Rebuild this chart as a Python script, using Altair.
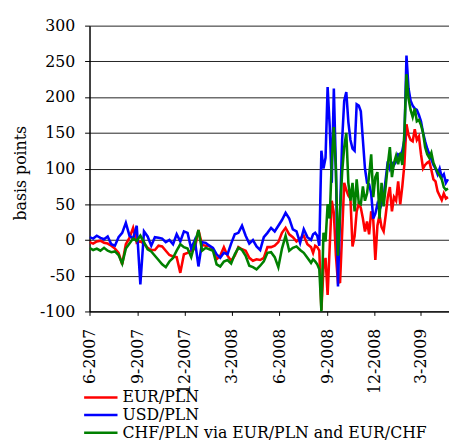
import altair as alt
import pandas as pd

# Sampling dates: weekly through July 2008, then every 4 days (volatile period)
weekly_dates = pd.date_range("2007-06-01", periods=61, freq="7D")
fourday_dates = pd.date_range("2008-08-01", periods=67, freq="4D")
dates = list(weekly_dates) + list(fourday_dates)

series_names = ["EUR/PLN", "USD/PLN", "CHF/PLN via EUR/PLN and EUR/CHF"]
series_colors = ["#FF0000", "#0000FF", "#008000"]

eur_pln = [
    -3, -5, -2, -1, -4, -5, -8, -12, -18, -34,
    -6, 3, 17, -4, -2, -5, -11, -14, -14, -8,
    -9, -15, -21, -23, -24, -46, -20, -18, -15, -12,
    14, -7, -8, -8, -13, -27, -22, -10, -22, -29,
    -22, -10, -13, -15, -25, -29, -27, -28, -25, -10,
    -10, -8, -3, 10, 17, 8, 4, -2, 2, 6,
    -6,
    -10, -18, -8, -10, -15, -98, -40, -25, -77, -10,
    55, 38, -22, -60, -59, 10, 80, 70, 62, 58,
    -9, 5, 40, 51, 45, 30, 12, 26, 8, 40,
    28, -28, 20, 35, 18, 12, 35, 60, 74, 40,
    60, 55, 82, 50, 75, 106, 162, 147, 140, 138,
    155, 140, 145, 120, 100, 105, 108, 110, 98, 85,
    82, 68, 62, 56, 65, 58, 60,
]

usd_pln = [
    4, 2, 6, 3, 1, 5, -6, -8, 4, 10,
    24, 6, 2, 20, -62, 12, 5, -8, 4, 3,
    2, -3, 0, -6, 8, -2, 12, 10, -12, 0,
    -37, -3, -4, -8, -11, -20, -25, -18, -20, -5,
    8, 10, 20, 6, -5, 0, -9, -14, 4, 10,
    17, 12, 20, 28, 38, 30, 15, 12, -4, 15,
    4,
    0, 8, 10, 6, -8, 125, 100, 115, 214, 160,
    80, 212, 100, -65, 40, 140, 195, 207, 165, 140,
    128, 125, 190, 188, 180, 140, 100, 80, 78, 65,
    30, 37, 50, 42, 50, 60, 85, 110, 100, 108,
    105, 110, 120, 118, 125, 140, 258, 212, 195, 188,
    184, 182, 175, 166, 150, 138, 128, 120, 113, 105,
    100, 92, 100, 88, 92, 80, 85,
]

chf_pln = [
    -11, -14, -12, -15, -11, -15, -17, -16, -21, -33,
    -12, -5, 2, -1, 6, -3, -13, -16, -22, -28,
    -34, -38, -30, -25, -15, -6, -10, -12, -24, -5,
    14, -15, -11, -13, -15, -34, -37, -30, -28, -33,
    -20, -11, -14, -22, -36, -38, -41, -36, -30, -18,
    -17, -24, -38, -12, 6, -15, -11, -9, -14, -18,
    -25,
    -32, -27, -30, -34, -41, -100, 10, -2, 50, 30,
    110, 158, 97, -22, 40, 95, 130, 150, 80, 55,
    80, 40, 85, 52, 50, 75, 55, 65, 90, 120,
    60, 88, 95, 30, 80, 47, 75, 105, 130, 88,
    108, 118, 106, 122, 105, 150, 232, 198, 182, 172,
    184, 166, 168, 161, 150, 130, 120, 115, 122, 108,
    101, 95, 90, 85, 74, 70, 72,
]

y_ticks = [-100, -50, 0, 50, 100, 150, 200, 250, 300]
x_tick_months = [(2007, 6), (2007, 9), (2007, 12), (2008, 3), (2008, 6),
                 (2008, 9), (2008, 12), (2009, 3)]

rows = []
for name, vals in zip(series_names, [eur_pln, usd_pln, chf_pln]):
    for d, v in zip(dates, vals):
        rows.append({"date": d, "bp": v, "series": name})
df = pd.DataFrame(rows)

FONT = "DejaVu Serif"
FS = 16

x_values = [alt.DateTime(year=y, month=m, date=1) for (y, m) in x_tick_months]

chart = alt.Chart(df).mark_line(strokeWidth=2.6, clip=True).encode(
    x=alt.X(
        "date:T",
        scale=alt.Scale(domain=[alt.DateTime(year=2007, month=6, date=1),
                                alt.DateTime(year=2009, month=4, date=24)]),
        axis=alt.Axis(
            values=x_values, format="%-m-%Y", labelAngle=270,
            labelAlign="right", labelBaseline="middle",
            labelPadding=13, tickSize=4, tickColor="black",
            domainColor="black", domainWidth=1.2, grid=False, title=None,
            labelOverlap=False, labelFlush=False,
        ),
    ),
    y=alt.Y(
        "bp:Q",
        scale=alt.Scale(domain=[-100, 300], nice=False, zero=False),
        axis=alt.Axis(
            values=y_ticks, labelExpr="toString(datum.value)",
            labelPadding=10, tickSize=5, tickColor="black",
            domainColor="black", domainWidth=1.5,
            grid=True, gridColor="#222222", gridWidth=1,
            title="basis points",
            titleAngle=270, titleAlign="center", titleBaseline="alphabetic",
            titleX=-65, titleY=149.7,
        ),
    ),
    color=alt.Color(
        "series:N",
        scale=alt.Scale(domain=series_names, range=series_colors),
        legend=alt.Legend(
            orient="none", legendX=2, legendY=369, title=None,
            direction="vertical",
            symbolType="M-2.06,0H2.06", symbolSize=272, symbolStrokeWidth=2.5,
            labelOffset=12.5, rowPadding=-1.5, labelLimit=400,
        ),
    ),
).properties(
    width=366,
    height=291,
    autosize=alt.AutoSizeParams(type="none"),
    padding={"left": 83, "top": 14, "right": 0, "bottom": 132},
).configure(
    background="white", font=FONT
).configure_view(
    stroke=None
).configure_axis(
    labelFont=FONT, labelFontSize=FS, labelColor="black",
    titleFont=FONT, titleFontSize=FS, titleFontWeight="normal", titleColor="black",
).configure_legend(
    labelFont=FONT, labelFontSize=FS, labelColor="black",
)

chart.save("out.html", embed_options={"renderer": "svg", "actions": False})
